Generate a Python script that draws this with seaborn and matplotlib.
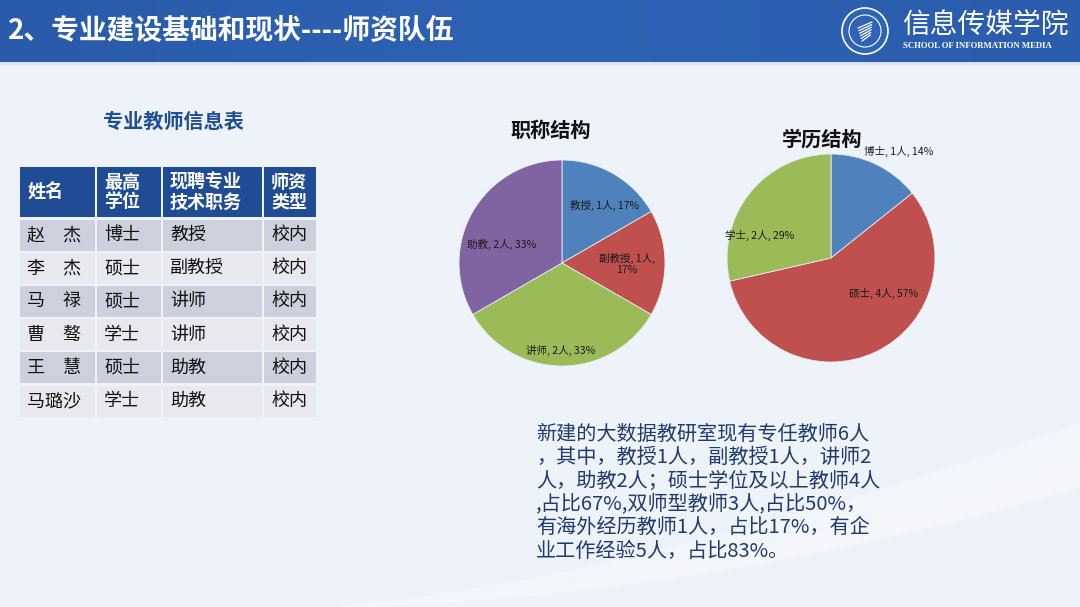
import numpy as np
import matplotlib
matplotlib.use("Agg")
import matplotlib.pyplot as plt
from matplotlib.patches import Rectangle, Circle
import seaborn as sns

# ---------------- data ----------------
header_title = "2、专业建设基础和现状----师资队伍"
table_title = "专业教师信息表"
table_cols = ["姓名", "最高\n学位", "现聘专业\n技术职务", "师资\n类型"]
names = ["赵　杰", "李　杰", "马　禄", "曹　骜", "王　慧", "马璐沙"]
degrees = ["博士", "硕士", "硕士", "学士", "硕士", "学士"]
titles = ["教授", "副教授", "讲师", "讲师", "助教", "助教"]
types = ["校内", "校内", "校内", "校内", "校内", "校内"]

pie1_title = "职称结构"
pie1_labels = ["教授", "副教授", "讲师", "助教"]
pie1_counts = [1, 1, 2, 2]
pie1_pcts = ["17%", "17%", "33%", "33%"]

pie2_title = "学历结构"
pie2_labels = ["博士", "硕士", "学士"]
pie2_counts = [1, 4, 2]
pie2_pcts = ["14%", "57%", "29%"]

summary_lines = [
    "新建的大数据教研室现有专任教师6人",
    "，其中，教授1人，副教授1人，讲师2",
    "人，助教2人；硕士学位及以上教师4人",
    ",占比67%,双师型教师3人,占比50%，",
    "有海外经历教师1人，占比17%，有企",
    "业工作经验5人，占比83%。",
]

# ---------------- style ----------------
sns.set_theme(style="white")
plt.rcParams["font.family"] = ["Noto Sans CJK SC", "DejaVu Sans"]

W, H = 1080, 607
BG = "#EEF2F9"
PIE_COLORS = ["#4F81BD", "#C0504D", "#9BBB59", "#8064A2"]

fig = plt.figure(figsize=(W / 100, H / 100), dpi=100)
fig.patch.set_facecolor(BG)
ax = fig.add_axes([0, 0, 1, 1])
ax.set_xlim(0, W)
ax.set_ylim(H, 0)
ax.axis("off")
ax.set_facecolor(BG)

# subtle white swoosh bottom-right
xs = np.linspace(300, 1080, 80)
t = (xs - 300) / 780
upper = 607 - t ** 1.5 * 185
lower = 607 - t ** 1.9 * 120
ax.fill_between(xs, lower, upper, color="white", alpha=0.28, lw=0, zorder=0)
upper2 = 607 - t ** 1.7 * 150
ax.fill_between(xs, lower, upper2, color="white", alpha=0.2, lw=0, zorder=0)

# header band
grad = np.linspace(0, 1, 256).reshape(1, -1)
ax.imshow(grad, extent=(0, W, 62, 0), cmap=matplotlib.colors.LinearSegmentedColormap.from_list(
    "hdr", ["#2A5BAA", "#2E62B4", "#2B5DAE"]), aspect="auto", zorder=1)
ax.add_patch(Rectangle((0, 62), W, 3, color="#DCE4F2", lw=0, zorder=1))
ax.text(8, 31, header_title, color="white", fontsize=20, fontweight="bold",
        va="center", ha="left", zorder=3)

# logo
ax.add_patch(Circle((865, 31), 23, facecolor="#2F63B5", edgecolor="white", lw=1.2, zorder=3))
ax.add_patch(Circle((865, 31), 16, facecolor="none", edgecolor="white", lw=0.8, zorder=3))
for k in range(6):
    yy = 24 + k * 2.6
    ax.plot([858 + k * 0.8, 872 - k * 0.3], [yy + 4, yy - 2], color="white", lw=0.9, zorder=4)
ax.text(902, 25, "信息传媒学院", color="white", fontsize=20, va="center", ha="left", zorder=3)
ax.text(903, 46, "SCHOOL OF INFORMATION MEDIA", color="white", fontsize=6.3,
        family="Liberation Serif", fontweight="bold", va="center", ha="left", zorder=3)

# table title
ax.text(173, 121, table_title, color="#1F4E96", fontsize=14.5, fontweight="bold",
        ha="center", va="center", zorder=3)

# table
col_x = [20, 97, 163, 264]
col_w = [75, 64, 99, 52]
head_y, head_h = 167, 50
row_y0, row_h, gap = 219.5, 31, 2.2
for j, c in enumerate(table_cols):
    ax.add_patch(Rectangle((col_x[j], head_y), col_w[j], head_h, color="#1F4C94", lw=0, zorder=2))
    ax.text(col_x[j] + 7, head_y + head_h / 2, c, color="white", fontsize=13, fontweight="bold",
            ha="left", va="center", linespacing=1.05, zorder=3)
rows = list(zip(names, degrees, titles, types))
for i, row in enumerate(rows):
    y = row_y0 + i * (row_h + gap)
    fc = "#CDD1DD" if i % 2 == 0 else "#E7E9EF"
    for j, val in enumerate(row):
        ax.add_patch(Rectangle((col_x[j], y), col_w[j], row_h, color=fc, lw=0, zorder=2))
        ax.text(col_x[j] + 7, y + row_h / 2, val, color="#111111", fontsize=13,
                ha="left", va="center", zorder=3)

# pie titles
ax.text(551, 130, pie1_title, fontsize=14.5, fontweight="bold", color="#111111",
        ha="center", va="center", zorder=3)
ax.text(822, 139, pie2_title, fontsize=14.5, fontweight="bold", color="#111111",
        ha="center", va="center", zorder=2)

# summary text
for k, line in enumerate(summary_lines):
    ax.text(536, 434 + k * 23.4, line, fontsize=14.5, color="#1F3A6E",
            ha="left", va="center", zorder=3)

# ---------------- pies ----------------
LIM = 1.3


def pie_axes(cx, cy, r):
    half = LIM * r
    return fig.add_axes([(cx - half) / W, (H - cy - half) / H, 2 * half / W, 2 * half / H])


def draw_pie(pax, counts, labels, pcts, offsets):
    pax.pie(counts, colors=PIE_COLORS[:len(counts)], startangle=90,
            counterclock=False, radius=1,
            wedgeprops=dict(edgecolor="#E8ECF4", linewidth=0.6))
    pax.set_xlim(-LIM, LIM)
    pax.set_ylim(-LIM, LIM)
    pax.set_aspect("equal")
    pax.axis("off")
    for lab, n, p, (dx, dy, brk) in zip(labels, counts, pcts, offsets):
        txt = f"{lab}, {n}人,\n{p}" if brk else f"{lab}, {n}人, {p}"
        pax.text(dx, dy, txt, fontsize=7.6, color="#1A1A1A", ha="center", va="center",
                 linespacing=1.2)


ax1 = pie_axes(562, 263, 103)
draw_pie(ax1, pie1_counts, pie1_labels, pie1_pcts,
         [(0.41, 0.56, False), (0.63, -0.01, True), (-0.01, -0.85, False), (-0.59, 0.18, False)])

ax2 = pie_axes(831, 258, 104)
draw_pie(ax2, pie2_counts, pie2_labels, pie2_pcts,
         [(0.65, 1.02, False), (0.51, -0.34, False), (-0.69, 0.22, False)])

fig.savefig("out.png", dpi=100, facecolor=BG)
